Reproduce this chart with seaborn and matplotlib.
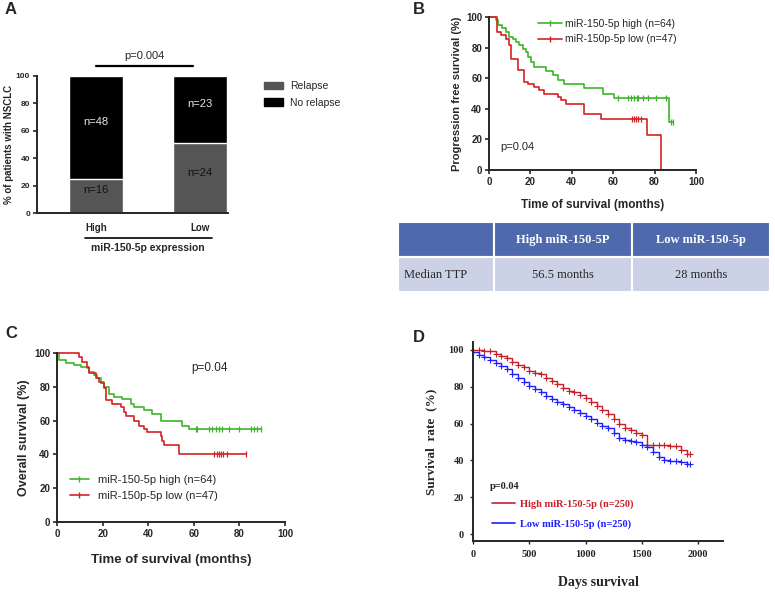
import matplotlib
matplotlib.use('Agg')
import matplotlib.pyplot as plt
import numpy as np
import seaborn as sns
from matplotlib.lines import Line2D
from matplotlib.patches import Patch

# Panel A: relapse by miR-150-5p expression
groups = ['High', 'Low']
relapse_n = [16, 24]
no_relapse_n = [48, 23]

# Panel B: progression free survival (months, %)
pfs_high_t = [0, 3.4, 4.2, 6.5, 8.2, 9.8, 11.5, 13, 14.7, 16.5, 17.9, 18.7, 20.5,
              21.9, 27.5, 30.8, 33.2, 36.4, 46, 55, 60.5, 87.1]
pfs_high_s = [100, 97.8, 94.6, 93, 90, 87, 85.5, 83.7, 81.5, 79, 77, 74, 70.5,
              67.3, 65, 62, 58.6, 56.4, 53.6, 50, 47, 31.4]
pfs_high_cens = [62.1, 67, 68.5, 70, 71.5, 72.2, 74.6, 76.7, 80.7, 85.5, 88, 89]
pfs_low_t = [0, 3.7, 5.8, 8.2, 9.8, 10.6, 13.8, 17, 18.7, 21.9, 24.3, 26.7, 33.2,
             34.8, 37.2, 46, 54.1, 76.3, 83.1]
pfs_low_s = [100, 90.2, 88, 85.8, 81.5, 72.8, 65.1, 57.5, 56.4, 54.2, 52.1, 49.9,
             47.7, 45.5, 43.4, 36.8, 33.6, 22.7, 0]
pfs_low_cens = [69, 70, 71, 72, 73.5]

# Median TTP table
table_cols = ['', 'High miR-150-5P', 'Low miR-150-5p']
table_row = ['Median TTP', '56.5 months', '28 months']

# Panel C: overall survival (months, %)
os_high_t = [0, 0.9, 3.8, 7.5, 10.4, 13.3, 14, 16.2, 17.7, 19.2, 20.6, 22.8, 25,
             28.7, 32.3, 33.8, 38.2, 41.8, 45.5, 55, 57.9]
os_high_s = [100, 95.9, 93.9, 92.9, 91.9, 90.9, 89, 87, 85, 83, 80, 76, 74,
             73, 70, 68, 66, 64, 60, 57, 55]
os_high_cens = [60.8, 61.5, 66.7, 68.1, 69.6, 71.1, 72.5, 75.4, 79.8, 84.9,
                86.4, 87.9, 89.3]
os_low_t = [0, 9.6, 11.1, 13.3, 14, 17, 18.4, 19.2, 20.6, 21.3, 24.3, 27.9,
            29.4, 30.1, 33.8, 36, 38.2, 39.6, 45.5, 46.2, 46.9, 53.5]
os_low_s = [100, 97.8, 94.9, 92, 88, 85.5, 83, 82, 79, 72, 70, 68,
            65, 63, 60, 57, 55, 53, 51, 48, 45.6, 40.2]
os_low_cens = [69, 70, 71, 72, 73, 74.5, 82.7]

# Panel D: survival rate (days, %)
d_days = [0, 50, 100, 150, 200, 250, 300, 350, 400, 450, 500, 550, 600, 650,
          700, 750, 800, 850, 900, 950, 1000, 1050, 1100, 1150, 1200, 1250,
          1300, 1350, 1400, 1450, 1500, 1550, 1600, 1650, 1700, 1750, 1800,
          1850, 1900, 1930]
d_high = [100, 100, 99.6, 99.2, 98, 96.8, 95.5, 93.5, 91.8, 90.5, 88.6, 87.5,
          86.7, 84.5, 83.2, 81.5, 79.5, 77.8, 77, 75.5, 74, 71.5, 69.5, 67.5,
          65, 62.5, 59.5, 57.5, 56.5, 55, 54, 48.5, 48.3, 48.3, 48.2, 48, 48,
          45.5, 43.5, 43.5]
d_low = [99, 97.5, 96, 94.5, 93, 91.5, 89.5, 87, 84.5, 82.5, 80.5, 79, 77, 75,
         73.5, 71.5, 70.5, 69, 67.5, 65.5, 64, 62.5, 60.5, 58.5, 57.5, 55, 52,
         51, 50.5, 50, 48.5, 47, 44.5, 42, 40, 39.5, 39.5, 39, 38, 38]

GREEN = '#3cb52a'
RED = '#d42222'
D_RED = '#c8202a'
D_BLUE = '#1f1fff'
HEAD = '#4f69ad'
ROWC = '#ccd2e6'

sns.set_style('ticks')
plt.rcParams['font.family'] = ['Liberation Sans', 'DejaVu Sans']
plt.rcParams['axes.linewidth'] = 1.4

W, H = 775, 593
fig = plt.figure(figsize=(W / 100, H / 100), dpi=100)


def px_axes(left, top, right, bottom):
    return fig.add_axes([left / W, 1 - bottom / H, (right - left) / W,
                         (bottom - top) / H])


def style_axis(ax, size=7):
    sns.despine(ax=ax)
    ax.tick_params(length=3, width=1.2, labelsize=size, pad=2)
    for lab in ax.get_xticklabels() + ax.get_yticklabels():
        lab.set_fontweight('bold')


def km(ax, t, s, cens, color, label):
    t_all = list(t) + [max(cens)] if max(cens) > t[-1] else list(t)
    s_all = list(s) + [s[-1]] if max(cens) > t[-1] else list(s)
    sns.lineplot(x=t_all, y=s_all, drawstyle='steps-post', color=color,
                 linewidth=1.2, ax=ax, label=label, legend=False,
                 estimator=None, sort=False)
    idx = np.searchsorted(t, cens, side='right') - 1
    ax.plot(cens, np.array(s)[idx], linestyle='none', marker='|',
            color=color, markersize=5, markeredgewidth=0.9, clip_on=False)
    for ln in ax.lines:
        ln.set_clip_on(False)


# ---------- A ----------
axA = px_axes(37, 76, 228, 213)
tot = [r + n for r, n in zip(relapse_n, no_relapse_n)]
rel_pct = [100 * r / t for r, t in zip(relapse_n, tot)]
sns.barplot(x=groups, y=[100, 100], color='black', width=0.52, saturation=1,
            errorbar=None, ax=axA)
sns.barplot(x=groups, y=rel_pct, color='#555555', width=0.52, saturation=1,
            errorbar=None, ax=axA)
axA.set_xlim(-0.567, 1.27)
axA.set_ylim(0, 100)
axA.set_yticks(range(0, 101, 20))
axA.set_xlabel('')
axA.set_ylabel('% of patients with NSCLC', fontsize=7, fontweight='bold',
               labelpad=1)
style_axis(axA, size=6)
axA.tick_params(axis='x', length=0, pad=7, labelsize=7)
for i in range(2):
    axA.text(i, rel_pct[i] / 2 + 4, 'n=%d' % relapse_n[i], ha='center',
             va='center', fontsize=8, color='#111111')
    axA.text(i, rel_pct[i] + (100 - rel_pct[i]) / 2 + 4,
             'n=%d' % no_relapse_n[i], ha='center', va='center', fontsize=8,
             color='#e8e8e8')
trA = axA.get_xaxis_transform()
axA.plot([0, 0.93], [1.073, 1.073], color='black', lw=1.6, transform=trA,
         clip_on=False)
axA.text(0.465, 1.11, 'p=0.004', ha='center', va='bottom', fontsize=8,
         transform=trA)
axA.plot([-0.106, 1.115], [-0.18, -0.18], color='black', lw=1.2,
         transform=trA, clip_on=False)
axA.text(0.5, -0.255, 'miR-150-5p expression', ha='center', va='center',
         fontsize=7.5, fontweight='bold', transform=trA)
axA.legend(handles=[Patch(color='#555555', label='Relapse'),
                    Patch(color='black', label='No relapse')],
           loc='upper left', bbox_to_anchor=(1.19, 0.965), frameon=False,
           fontsize=7.5, borderpad=0, borderaxespad=0, handlelength=1.75,
           handletextpad=0.7, labelspacing=0.65)

# ---------- B ----------
axB = px_axes(489, 17, 696, 170)
km(axB, pfs_high_t, pfs_high_s, pfs_high_cens, GREEN, 'miR-150-5p high (n=64)')
km(axB, pfs_low_t, pfs_low_s, pfs_low_cens, RED, 'miR-150p-5p low (n=47)')
axB.set_xlim(0, 100)
axB.set_ylim(0, 100)
axB.set_xticks(range(0, 101, 20))
axB.set_yticks(range(0, 101, 20))
axB.set_xlabel('Time of survival (months)', fontsize=8.5, fontweight='bold',
               labelpad=9)
axB.set_ylabel('Progression free survival (%)', fontsize=8, fontweight='bold',
               labelpad=3)
style_axis(axB)
axB.text(5.5, 15, 'p=0.04', fontsize=8, va='center')
axB.legend(handles=[Line2D([], [], color=GREEN, marker='|', lw=1.2, ms=5,
                           label='miR-150-5p high (n=64)'),
                    Line2D([], [], color=RED, marker='|', lw=1.2, ms=5,
                           label='miR-150p-5p low (n=47)')],
           loc='upper left', bbox_to_anchor=(0.237, 0.99), frameon=False,
           fontsize=7.5, borderpad=0, borderaxespad=0, handlelength=2.3,
           handletextpad=0.3, labelspacing=0.55, numpoints=1)

# ---------- table ----------
axT = px_axes(398, 222, 770, 292)
axT.axis('off')
tab = axT.table(cellText=[table_row], colLabels=table_cols,
                colWidths=[96 / 372, 138 / 372, 138 / 372], bbox=[0, 0, 1, 1],
                cellLoc='center')
for (r, c), cell in tab.get_celld().items():
    cell.set_edgecolor('white')
    cell.set_linewidth(1.5)
    txt = cell.get_text()
    txt.set_fontfamily(['Liberation Serif', 'DejaVu Serif'])
    txt.set_fontsize(9)
    if r == 0:
        cell.set_facecolor(HEAD)
        txt.set_color('white')
        txt.set_fontweight('bold')
    else:
        cell.set_facecolor(ROWC)
        if c == 0:
            txt.set_ha('left')
            cell.PAD = 0.06
tab.auto_set_font_size(False)

# ---------- C ----------
axC = px_axes(57, 353, 285, 522)
km(axC, os_high_t, os_high_s, os_high_cens, GREEN, 'miR-150-5p high (n=64)')
km(axC, os_low_t, os_low_s, os_low_cens, RED, 'miR-150p-5p low (n=47)')
axC.set_xlim(0, 100)
axC.set_ylim(0, 100)
axC.set_xticks(range(0, 101, 20))
axC.set_yticks(range(0, 101, 20))
axC.set_xlabel('Time of survival (months)', fontsize=9.5, fontweight='bold',
               labelpad=11)
axC.set_ylabel('Overall survival (%)', fontsize=9, fontweight='bold',
               labelpad=3)
style_axis(axC)
axC.text(59, 91, 'p=0.04', fontsize=8.5, va='center')
axC.legend(handles=[Line2D([], [], color=GREEN, marker='|', lw=1.2, ms=5,
                           label='miR-150-5p high (n=64)'),
                    Line2D([], [], color=RED, marker='|', lw=1.2, ms=5,
                           label='miR-150p-5p low (n=47)')],
           loc='upper left', bbox_to_anchor=(0.057, 0.28), frameon=False,
           fontsize=8, borderpad=0, borderaxespad=0, handlelength=1.7,
           handletextpad=0.8, labelspacing=0.55, numpoints=1)

# ---------- D ----------
SERIF = ['Liberation Serif', 'DejaVu Serif']
axD = px_axes(473, 342, 723, 541)
for vals, col in [(d_high, D_RED), (d_low, D_BLUE)]:
    sns.lineplot(x=d_days, y=vals, drawstyle='steps-post', color=col, lw=1,
                 marker='+', markersize=4, markeredgewidth=0.8,
                 markeredgecolor=col, ax=axD, estimator=None, sort=False)
axD.set_xlim(0, 2222)
axD.set_ylim(-3.8, 104.3)
axD.set_xticks(range(0, 2001, 500))
axD.set_yticks(range(0, 101, 20))
sns.despine(ax=axD)
axD.tick_params(length=2.5, width=1, labelsize=7.5, pad=4)
for lab in axD.get_xticklabels() + axD.get_yticklabels():
    lab.set_fontfamily(SERIF)
    lab.set_fontweight('bold')
axD.set_xlabel('Days survival', fontsize=10, fontweight='bold',
               family=SERIF, labelpad=12)
axD.set_ylabel('Survival  rate  (%)', fontsize=9.5, fontweight='bold',
               family=SERIF, labelpad=8)
axD.text(0.068, 0.276, 'p=0.04', fontsize=7.5, fontweight='bold',
         family=SERIF, transform=axD.transAxes, va='center')
axD.legend(handles=[Line2D([], [], color=D_RED, lw=1.2,
                           label='High miR-150-5p (n=250)'),
                    Line2D([], [], color=D_BLUE, lw=1.2,
                           label='Low miR-150-5p (n=250)')],
           loc='upper left', bbox_to_anchor=(0.076, 0.21),
           frameon=False, borderpad=0, borderaxespad=0,
           handlelength=2.2, handletextpad=0.5, labelspacing=1.0,
           prop={'family': SERIF, 'weight': 'bold', 'size': 7.5},
           labelcolor='linecolor')

# panel letters
for letter, x, y in [('A', 5, 10), ('B', 413, 9), ('C', 5, 334), ('D', 413, 338)]:
    fig.text(x / W, 1 - y / H, letter, fontsize=12, fontweight='bold',
             va='center', ha='left')

fig.savefig('out.png', dpi=100)
